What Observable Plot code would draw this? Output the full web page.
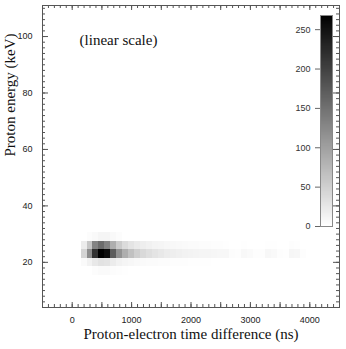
<!DOCTYPE html>
<html>
<head>
<meta charset="utf-8">
<script src="https://cdn.jsdelivr.net/npm/d3@7"></script>
<script src="https://cdn.jsdelivr.net/npm/@observablehq/plot@0.6"></script>
<style>
  html, body { margin: 0; padding: 0; background: #fff; }
  #wrap { position: relative; width: 346px; height: 349px; }
  #cbar { position: absolute; left: 272px; top: 0px; }
</style>
</head>
<body>
<div id="wrap"><div id="main"></div><div id="cbar"></div></div>
<script>
// ---- data ----
// time-difference bin starts (ns); each bin is 100 ns wide
const timeBins = [150,250,350,450,550,650,750,850,950,1050,1150,1250,1350,1450,1550,1650,1750,1850,1950,2050,2150,2250,2350,2450,2550,2650,2750,2850,2950,3050,3150,3250,3350,3450,3550,3650,3750,3850];
const binWidth = 100;
// energy bin centres (keV); each bin is 3 keV high
const energyBins = [17, 20, 23, 26, 29];
const energyHeight = 3;
const counts17 = [0,0,3,5,5,3,2,1,0,0,0,0,0,0,0,0,0,0,0,0,0,0,0,0,0,0,0,0,0,0,0,0,0,0,0,0,0,0];
const counts20 = [5,14,24,30,28,20,14,10,8,6,5,4,4,3,3,2,2,2,1,1,1,1,0,0,0,0,0,0,0,0,0,0,0,0,0,0,0,0];
const counts23 = [45,120,215,268,255,170,115,85,65,50,40,34,28,24,20,18,16,14,13,12,11,10,9,8,8,3,2,7,5,2,2,8,6,2,1,9,8,2];
const counts26 = [20,60,130,155,130,85,55,38,28,22,18,15,12,10,8,7,6,5,4,4,3,3,2,2,1,0,0,1,0,0,0,1,1,0,0,2,1,0];
const counts29 = [0,3,6,10,10,6,3,0,0,0,0,0,0,0,0,0,0,0,0,0,0,0,0,0,0,0,0,0,0,0,0,0,0,0,0,0,0,0];
const countRows = [counts17, counts20, counts23, counts26, counts29];

const xTickLabels = [0, 1000, 2000, 3000, 4000];
const yTickLabels = [20, 40, 60, 80, 100];
const colorTickLabels = [0, 50, 100, 150, 200, 250];
const colorMax = 268;

const xTitle = "Proton-electron time difference (ns)";
const yTitle = "Proton energy (keV)";
const note = "(linear scale)";

// ---- build cells ----
const cells = [];
energyBins.forEach((e, i) => {
  timeBins.forEach((t, j) => {
    const c = countRows[i][j];
    if (c > 0) cells.push({t0: t, t1: t + binWidth, e0: e - energyHeight / 2, e1: e + energyHeight / 2, count: c});
  });
});

const colorScale = {type: "linear", domain: [0, colorMax], range: ["#ffffff", "#000000"]};
const W = 346, H = 349, mL = 42, mR = 7, mT = 5, mB = 42;
const innerW = W - mL - mR, innerH = H - mT - mB;

const xMinor = d3.range(-500, 4501, 100);
const xMajor = d3.range(-500, 4501, 500);
const yMinor = d3.range(4, 112, 2);
const yMajor = d3.range(20, 111, 20);
const axisColor = "#555";
const serif = "'Liberation Serif', 'Times New Roman', serif";

const main = Plot.plot({
  width: W, height: H,
  marginLeft: mL, marginRight: mR, marginTop: mT, marginBottom: mB,
  x: {domain: [-500, 4500]},
  y: {domain: [4, 111]},
  color: colorScale,
  style: {fontFamily: "'Liberation Sans', Arial, sans-serif", fontSize: "9px", background: "white", color: "#222"},
  marks: [
    Plot.rect(cells, {x1: "t0", x2: "t1", y1: "e0", y2: "e1", fill: "count", shapeRendering: "crispEdges"}),
    Plot.frame({stroke: axisColor}),
    Plot.tickX(xMinor, {x: d => d, insetTop: innerH - 3, stroke: axisColor}),
    Plot.tickX(xMinor, {x: d => d, insetBottom: innerH - 3, stroke: axisColor}),
    Plot.tickX(xMajor, {x: d => d, insetTop: innerH - 5, stroke: axisColor}),
    Plot.tickX(xMajor, {x: d => d, insetBottom: innerH - 5, stroke: axisColor}),
    Plot.tickY(yMinor, {y: d => d, insetRight: innerW - 3, stroke: axisColor}),
    Plot.tickY(yMinor, {y: d => d, insetLeft: innerW - 3, stroke: axisColor}),
    Plot.tickY(yMajor, {y: d => d, insetRight: innerW - 6, stroke: axisColor}),
    Plot.tickY(yMajor, {y: d => d, insetLeft: innerW - 6, stroke: axisColor}),
    Plot.axisX({ticks: xTickLabels, tickFormat: d => String(d), tickSize: 0, tickPadding: 9, label: null}),
    Plot.axisY({ticks: yTickLabels, tickFormat: d => String(d), tickSize: 0, tickPadding: 10, label: null}),
    Plot.text([xTitle], {text: d => d, frameAnchor: "bottom", dy: 31, fontFamily: serif, fontSize: 15, fill: "#111"}),
    Plot.text([yTitle], {text: d => d, frameAnchor: "left", dx: -32, rotate: -90, fontFamily: serif, fontSize: 15, fill: "#111"}),
    Plot.text([note], {text: d => d, frameAnchor: "top-left", dx: 76, dy: 29, textAnchor: "middle", fontFamily: serif, fontSize: 15, fill: "#111"})
  ]
});
d3.select(main).selectAll("g[aria-label='rect']").style("filter", "blur(0.6px)");
document.getElementById("main").appendChild(main);

// ---- colour bar ----
const levels = d3.range(0, colorMax, 1);
const cbar = Plot.plot({
  width: 74, height: 240,
  marginLeft: 48, marginRight: 14, marginTop: 15, marginBottom: 14,
  x: {domain: [0, 1], axis: null},
  y: {domain: [0, colorMax]},
  color: colorScale,
  style: {fontFamily: "'Liberation Sans', Arial, sans-serif", fontSize: "9px", background: "transparent", color: "#333"},
  marks: [
    Plot.rect(levels, {x1: 0, x2: 1, y1: d => d, y2: d => d + 1, fill: d => d + 0.5, shapeRendering: "crispEdges"}),
    Plot.frame({stroke: "#888"}),
    Plot.axisY({ticks: colorTickLabels, tickSize: 5, tickPadding: 5, label: null, stroke: "#666"})
  ]
});
document.getElementById("cbar").appendChild(cbar);
</script>
</body>
</html>
